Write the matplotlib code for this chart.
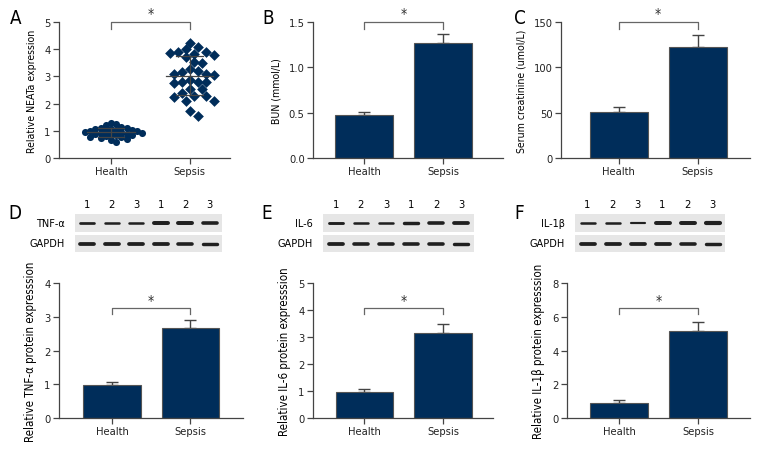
import numpy as np
import matplotlib
matplotlib.use('Agg')
import matplotlib.pyplot as plt
from matplotlib import font_manager

#-pick a narrow font if one is there
avail = {f.name for f in font_manager.fontManager.ttflist}
fam = 'Liberation Sans Narrow' if 'Liberation Sans Narrow' in avail else 'DejaVu Sans'
plt.rcParams['font.family'] = [fam, 'DejaVu Sans']
plt.rcParams['font.stretch'] = 'condensed'
plt.rcParams['font.size'] = 8

navy = '#002d5a'
W, H = 768, 456

#-Data ---------------------------------------------------------------------
groups = ['Health', 'Sepsis']

neat_health = [1.28, 1.24, 1.20, 1.14, 1.12, 1.10, 1.08, 1.06, 1.04, 1.02, 1.00, 1.00,
               0.98, 0.97, 0.95, 0.93, 0.92, 0.90, 0.88, 0.87, 0.85, 0.83, 0.80, 0.78,
               0.76, 0.74, 0.70, 0.66, 0.60]
neat_sepsis = [4.24, 4.08, 4.00, 3.90, 3.88, 3.85, 3.82, 3.78, 3.72, 3.54, 3.51, 3.27,
               3.20, 3.18, 3.08, 3.07, 3.05, 2.88, 2.78, 2.78, 2.78, 2.76, 2.54, 2.54,
               2.39, 2.29, 2.29, 2.26, 2.11, 2.11, 1.74, 1.54]

bun_mean = [0.47, 1.27]
bun_err = [0.04, 0.10]
scr_mean = [50.4, 122.7]
scr_err = [6.2, 12.5]
tnf_mean = [0.97, 2.67]
tnf_err = [0.11, 0.24]
il6_mean = [0.97, 3.14]
il6_err = [0.12, 0.36]
il1b_mean = [0.89, 5.15]
il1b_err = [0.16, 0.55]

lanes = ['1', '2', '3', '1', '2', '3']
#-band thickness (px) per lane
tnf_bands = [3.0, 2.8, 2.8, 4.4, 4.4, 4.0]
il6_bands = [3.2, 2.8, 2.8, 3.8, 4.0, 4.2]
il1b_bands = [2.8, 2.8, 2.4, 4.4, 4.4, 4.6]
gapdh_d = [4.2, 4.2, 4.2, 4.2, 4.0, 3.8]
gapdh_e = [4.2, 4.0, 4.0, 4.0, 4.0, 3.8]
gapdh_f = [4.2, 4.2, 4.2, 4.2, 4.0, 3.8]

fig = plt.figure(figsize=(W / 100, H / 100), dpi=100)


def px_axes(l, t, r, b):
    return fig.add_axes([l / W, 1 - b / H, (r - l) / W, (b - t) / H])


def style(ax, xlim, ylim, yticks, ylabel, fmt='%g', lsize=7.6):
    ax.set_xlim(*xlim)
    ax.set_ylim(*ylim)
    ax.set_xticks([0, 1])
    ax.set_xticklabels(groups, fontsize=8)
    ax.set_yticks(yticks)
    ax.set_yticklabels([fmt % v for v in yticks], fontsize=8)
    ax.set_ylabel(ylabel, fontsize=lsize, labelpad=5)
    for s in ['top', 'right']:
        ax.spines[s].set_visible(False)
    for s in ['left', 'bottom']:
        ax.spines[s].set_color('#444444')
        ax.spines[s].set_linewidth(0.9)
    ax.tick_params(colors='#444444', labelcolor='#222222', length=4, width=0.9, pad=2)
    ax.patch.set_alpha(0)


def bracket(ax, y, drop):
    ax.plot([0, 0, 1, 1], [y - drop, y, y, y - drop], color='#666666', lw=0.9,
            clip_on=False, zorder=5)
    ax.text(0.5, y + drop * 0.25, '*', ha='center', va='bottom', fontsize=10, color='#333333')


def bars(ax, mean, err):
    ax.bar([0, 1], mean, width=0.73, color=navy, edgecolor='#555555', linewidth=0.8, zorder=2)
    ax.errorbar([0, 1], mean, yerr=[[0, 0], err], fmt='none', ecolor='#444444',
                elinewidth=1.0, capsize=4.5, capthick=1.0, zorder=1)


def swarm(vals, xpx, ypx, diam):
    #-simple beeswarm: place each point at the nearest free x offset
    placed = []
    xs = []
    for v in vals:
        step = diam * 0.5
        cands = [0]
        for k in range(1, 30):
            cands += [k * step, -k * step]
        for c in cands:
            ok = True
            for (px, py) in placed:
                if (c - px) ** 2 + (v * ypx - py) ** 2 < (diam * 0.95) ** 2:
                    ok = False
                    break
            if ok:
                placed.append((c, v * ypx))
                xs.append(c / xpx)
                break
    return np.array(xs)


#-Panel A ------------------------------------------------------------------
ax = px_axes(59, 23, 230, 159)
style(ax, (-0.66, 1.51), (0, 5), [0, 1, 2, 3, 4, 5], 'Relative NEATa expression')
xpx, ypx = 79.0, 27.2
hx = swarm(neat_health, xpx, ypx, 5.2)
sx = swarm(neat_sepsis, xpx, ypx, 8.0)
ax.scatter(hx, neat_health, s=26, marker='o', color=navy, linewidths=0, zorder=3)
ax.scatter(1 + sx, neat_sepsis, s=30, marker='D', color=navy, linewidths=0, zorder=3)
for i, d in enumerate([neat_health, neat_sepsis]):
    m, sd = np.mean(d), np.std(d, ddof=1)
    ax.plot([i - 0.3, i + 0.3], [m, m], color='#444444', lw=0.9, zorder=4)
    ax.plot([i - 0.17, i + 0.17], [m + sd, m + sd], color='#444444', lw=0.9, zorder=4)
    ax.plot([i - 0.17, i + 0.17], [m - sd, m - sd], color='#444444', lw=0.9, zorder=4)
    ax.plot([i, i], [m - sd, m + sd], color='#444444', lw=0.9, zorder=4)
bracket(ax, 5.0, 0.25)

#-Panel B ------------------------------------------------------------------
ax = px_axes(313, 23, 503, 159)
style(ax, (-0.65, 1.76), (0, 1.5), [0, 0.5, 1.0, 1.5], 'BUN (mmol/L)', '%.1f')
bars(ax, bun_mean, bun_err)
bracket(ax, 1.5, 0.075)

#-Panel C ------------------------------------------------------------------
ax = px_axes(561, 23, 750, 159)
style(ax, (-0.73, 1.66), (0, 150), [0, 50, 100, 150], 'Serum creatinine (umol/L)')
bars(ax, scr_mean, scr_err)
bracket(ax, 150, 7.5)

#-Bottom row bar charts ----------------------------------------------------
ax = px_axes(59, 284, 243, 419)
style(ax, (-0.675, 1.67), (0, 4), [0, 1, 2, 3, 4], 'Relative TNF-α protein expresssion', lsize=8.3)
bars(ax, tnf_mean, tnf_err)
bracket(ax, 3.26, 0.17)

ax = px_axes(313, 284, 493, 419)
style(ax, (-0.65, 1.63), (0, 5), [0, 1, 2, 3, 4, 5], 'Relative IL-6 protein expresssion', lsize=8.3)
bars(ax, il6_mean, il6_err)
bracket(ax, 4.07, 0.22)

ax = px_axes(567, 284, 750, 419)
style(ax, (-0.66, 1.66), (0, 8), [0, 2, 4, 6, 8], 'Relative IL-1β protein expresssion', lsize=8.3)
bars(ax, il1b_mean, il1b_err)
bracket(ax, 6.5, 0.35)


#-Western blots ------------------------------------------------------------
def blot(l, r, name, bands, gapdh):
    for (t, b, thick, lab) in [(215, 233, bands, name), (236, 253, gapdh, 'GAPDH')]:
        bx = px_axes(l, t, r, b)
        bx.set_facecolor('#e6e6e6')
        bx.set_xlim(-0.5, 5.5)
        bx.set_ylim(0, 1)
        for i, lw in enumerate(thick):
            bx.plot([i - 0.28, i + 0.28], [0.5, 0.5], color='#202020', lw=lw * 0.65,
                    solid_capstyle='round')
        bx.set_xticks([])
        bx.set_yticks([])
        for s in bx.spines.values():
            s.set_visible(False)
        bx.text(-0.07, 0.5, lab, transform=bx.transAxes, ha='right', va='center', fontsize=7.8)
        if lab != 'GAPDH':
            for i, ln in enumerate(lanes):
                bx.text(i, 1.25, ln, ha='center', va='bottom', fontsize=8)


blot(75, 222, 'TNF-α', tnf_bands, gapdh_d)
blot(323, 474, 'IL-6', il6_bands, gapdh_e)
blot(575, 725, 'IL-1β', il1b_bands, gapdh_f)

#-Panel letters
for lab, x, y in [('A', 10, 19), ('B', 262, 19), ('C', 514, 19),
                  ('D', 8, 214), ('E', 261, 214), ('F', 514, 214)]:
    fig.text(x / W, 1 - y / H, lab, fontsize=13.5, ha='left', va='center')

fig.savefig('out.png', dpi=100)
